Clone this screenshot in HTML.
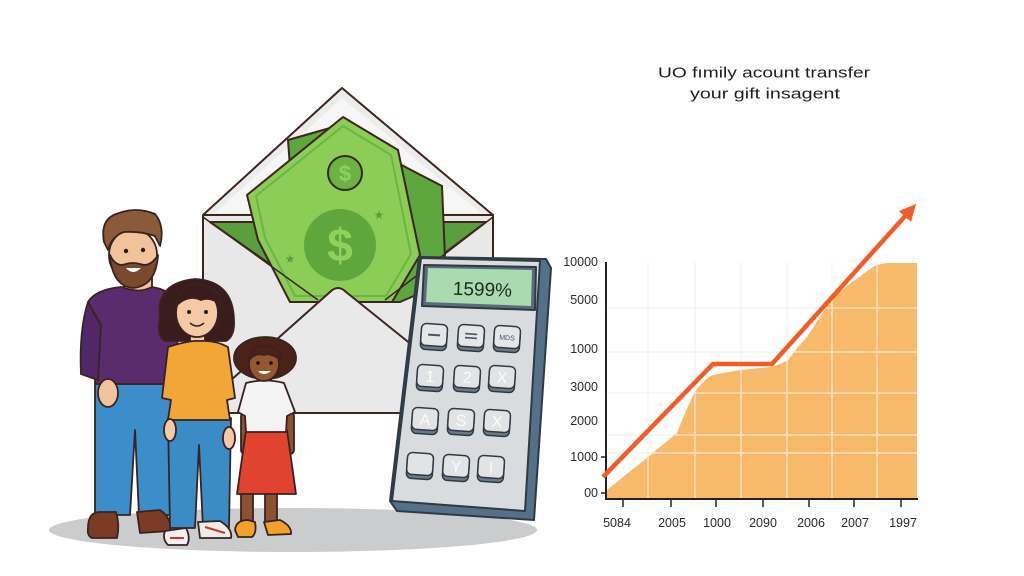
<!DOCTYPE html>
<html><head><meta charset="utf-8"><style>
html,body{margin:0;padding:0;background:#fff;}
svg{display:block;}
</style></head><body>
<svg width="1024" height="576" viewBox="0 0 1024 576" xmlns="http://www.w3.org/2000/svg">
<rect width="1024" height="576" fill="#ffffff"/>

<!-- Title -->
<text x="658" y="77.5" font-family="Liberation Sans, sans-serif" font-size="15" fill="#1e1e1e" textLength="212" lengthAdjust="spacingAndGlyphs">UO fımily acount transfer</text>
<text x="690" y="98.5" font-family="Liberation Sans, sans-serif" font-size="15" fill="#1e1e1e" textLength="150" lengthAdjust="spacingAndGlyphs">your gift insagent</text>

<!-- Chart -->
<defs>
<clipPath id="areaClip"><path d="M607,498 L607,490 L648,457 L677,433 Q688,405 695,392 Q703,380 713,375 L740,370 L770,367 Q780,365 788,360 Q797,348 807,337 L833,297 Q850,283 873,267 Q880,263 890,263 L917,263 L917,498 Z"/></clipPath>
</defs>
<g stroke="#efefef" stroke-width="1">
<line x1="648" y1="262" x2="648" y2="498"/><line x1="695" y1="262" x2="695" y2="498"/><line x1="741" y1="262" x2="741" y2="498"/><line x1="787" y1="262" x2="787" y2="498"/><line x1="832" y1="262" x2="832" y2="498"/><line x1="877" y1="262" x2="877" y2="498"/>
<line x1="607" y1="308" x2="917" y2="308"/><line x1="607" y1="352" x2="917" y2="352"/><line x1="607" y1="393" x2="917" y2="393"/><line x1="607" y1="435" x2="917" y2="435"/><line x1="607" y1="453" x2="917" y2="453"/>
</g>
<path d="M607,498 L607,490 L648,457 L677,433 Q688,405 695,392 Q703,380 713,375 L740,370 L770,367 Q780,365 788,360 Q797,348 807,337 L833,297 Q850,283 873,267 Q880,263 890,263 L917,263 L917,498 Z" fill="#f9b96b"/>
<g clip-path="url(#areaClip)" stroke="#fde2bf" stroke-width="1.5">
<line x1="648" y1="262" x2="648" y2="498"/><line x1="695" y1="262" x2="695" y2="498"/><line x1="741" y1="262" x2="741" y2="498"/><line x1="787" y1="262" x2="787" y2="498"/><line x1="832" y1="262" x2="832" y2="498"/><line x1="877" y1="262" x2="877" y2="498"/>
<line x1="607" y1="308" x2="917" y2="308"/><line x1="607" y1="352" x2="917" y2="352"/><line x1="607" y1="393" x2="917" y2="393"/><line x1="607" y1="435" x2="917" y2="435"/><line x1="607" y1="453" x2="917" y2="453"/>
</g>
<line x1="606" y1="262" x2="606" y2="500" stroke="#222" stroke-width="2"/>
<line x1="605" y1="499" x2="918" y2="499" stroke="#222" stroke-width="2"/>
<g stroke="#222" stroke-width="1.5">
<line x1="601" y1="457" x2="606" y2="457"/><line x1="601" y1="493" x2="606" y2="493"/>
<line x1="623" y1="499" x2="623" y2="507"/><line x1="671" y1="499" x2="671" y2="507"/><line x1="716" y1="499" x2="716" y2="507"/><line x1="763" y1="499" x2="763" y2="507"/><line x1="809" y1="499" x2="809" y2="507"/><line x1="854" y1="499" x2="854" y2="507"/><line x1="901" y1="499" x2="901" y2="507"/>
</g>
<g font-family="Liberation Sans, sans-serif" font-size="12.5" fill="#2a2a2a" text-anchor="end">
<text x="598" y="266">10000</text><text x="598" y="304">5000</text><text x="598" y="353">1000</text><text x="598" y="391">3000</text><text x="598" y="425">2000</text><text x="598" y="461">1000</text><text x="598" y="497">00</text>
</g>
<g font-family="Liberation Sans, sans-serif" font-size="12.5" fill="#2a2a2a" text-anchor="middle">
<text x="617" y="527">5084</text><text x="672" y="527">2005</text><text x="717" y="527">1000</text><text x="763" y="527">2090</text><text x="811" y="527">2006</text><text x="855" y="527">2007</text><text x="903" y="527">1997</text>
</g>
<polyline points="603,477 713,364 772,364 907,214" fill="none" stroke="#f05c2a" stroke-width="4.5" stroke-linejoin="miter"/>
<polygon points="916,204 911,222 899,211" fill="#f05c2a"/>

<!-- Ground shadow -->
<ellipse cx="293" cy="530" rx="244" ry="22" fill="#cbcccd"/>

<!-- Envelope -->
<g stroke="#3e2520" stroke-width="2" stroke-linejoin="round">
<polygon points="203,215 342,88 493,215" fill="#ececec"/>
<polygon points="215,213 342,98 481,213" fill="#f6f6f6" stroke="none"/>
<rect x="203" y="215" width="290" height="198" fill="#e8e8e8"/>
<polygon points="210,222 486,222 385,298 318,298" fill="#5c9e3d"/>
<!-- back bill -->
<polygon points="288,140 330,128 442,186 446,282 400,302 300,302" fill="#5ea63e"/>
<!-- front bill -->
<polygon points="247,195 343,117 398,150 420,255 392,302 290,302 258,240" fill="#8ccd58"/>
<polygon points="256,196 343,126 391,155 411,254 386,296 295,296 265,238" fill="none" stroke="#6cb444" stroke-width="2"/>
<circle cx="345" cy="173" r="17" fill="#6bb344"/>
<circle cx="340" cy="245" r="36" fill="#5fa63c" stroke="none"/>
<!-- front pocket -->
<path d="M203,413 L203,405 L330,292 Q338,284 346,292 L493,410 L493,413 Z" fill="#e9e9e9"/>
<line x1="203" y1="217" x2="318" y2="300" stroke-width="1.5"/>
<line x1="493" y1="217" x2="385" y2="300" stroke-width="1.5"/>
</g>
<text x="345" y="181" font-family="Liberation Sans, sans-serif" font-size="22" font-weight="bold" fill="#8fd15c" text-anchor="middle">$</text>
<text x="340" y="261" font-family="Liberation Sans, sans-serif" font-size="46" font-weight="bold" fill="#8fd15c" text-anchor="middle">$</text>
<text x="379" y="219" font-family="DejaVu Sans, sans-serif" font-size="12" fill="#5a9e3c" text-anchor="middle">★</text>
<text x="290" y="263" font-family="DejaVu Sans, sans-serif" font-size="12" fill="#5a9e3c" text-anchor="middle">★</text>

<!-- Dad -->
<g stroke="#3a2220" stroke-width="1.8" stroke-linejoin="round">
<path d="M95,384 L176,384 L172,515 L139,515 L135,430 L130,515 L95,515 Z" fill="#3b8ec9"/>
<path d="M88,528 Q88,512 100,512 L116,512 Q120,525 117,538 L92,538 Q87,536 88,528 Z" fill="#7c3b24"/>
<path d="M137,512 L160,510 Q172,518 170,531 L140,533 Z" fill="#7c3b24"/>
<rect x="124" y="276" width="28" height="16" fill="#f2c39b"/>
<path d="M88,302 Q96,289 122,287 Q138,294 152,287 Q172,290 177,305 L178,384 L95,384 L95,330 Z" fill="#5a2c6e"/>
<path d="M88,302 Q79,330 81,374 L98,380 L101,325 Z" fill="#51276a"/>
<ellipse cx="108" cy="393" rx="10" ry="14" fill="#f2c39b"/>
<ellipse cx="133" cy="255" rx="24" ry="26" fill="#f2c39b"/>
<path d="M110,255 Q112,286 133,288 Q156,286 158,255 Q150,268 140,264 Q133,262 126,264 Q116,268 110,255 Z" fill="#7a4a2e"/>
<path d="M104,242 Q100,220 116,214 Q136,206 155,214 Q165,226 160,246 L155,236 Q140,231 124,232 Q112,236 108,250 Z" fill="#8b5a3a"/>
</g>
<path d="M126,268 Q133,276 141,268 Z" fill="#fff"/>
<circle cx="126" cy="251" r="2.2" fill="#2a1a18"/><circle cx="143" cy="250" r="2.2" fill="#2a1a18"/>

<!-- Mom -->
<g stroke="#3a2220" stroke-width="1.8" stroke-linejoin="round">
<path d="M160,318 Q155,283 195,279 Q233,281 234,320 Q235,336 226,341 L165,341 Q156,336 160,318 Z" fill="#3b1c1d"/>
<rect x="190" y="330" width="15" height="14" fill="#f5c9a4"/>
<path d="M168,418 L231,418 L229,528 L203,528 L199,445 L195,528 L170,528 Z" fill="#3a8cc7"/>
<path d="M165,531 L186,528 Q191,538 187,545 L168,545 Q162,539 165,531 Z" fill="#f4efec"/>
<path d="M198,522 L220,521 Q233,529 231,538 L200,538 Z" fill="#f0ebe8"/>
<path d="M168,347 Q190,340 200,341 Q215,340 228,347 L235,398 L227,400 L230,420 L168,420 L171,400 L162,398 Z" fill="#f2a638"/>
<ellipse cx="170" cy="430" rx="6" ry="11" fill="#f5c9a4"/>
<ellipse cx="229" cy="438" rx="6" ry="11" fill="#f5c9a4"/>
<ellipse cx="197" cy="313" rx="21" ry="24" fill="#f5c9a4"/>
<path d="M176,306 Q179,285 197,284 Q219,285 222,306 Q211,296 201,300 Q188,294 176,306 Z" fill="#3b1c1d"/>
</g>
<path d="M205,527 L225,533" stroke="#c23a30" stroke-width="2"/>
<path d="M170,538 L184,538" stroke="#c23a30" stroke-width="2"/>
<circle cx="189" cy="312" r="2" fill="#2a1a18"/><circle cx="206" cy="312" r="2" fill="#2a1a18"/>
<path d="M190,323 Q197,329 204,323" fill="none" stroke="#3a2220" stroke-width="1.5"/>

<!-- Girl -->
<g stroke="#3a2220" stroke-width="1.8" stroke-linejoin="round">
<ellipse cx="265" cy="358" rx="31" ry="21" fill="#4b2219"/>
<rect x="241" y="490" width="12" height="34" fill="#8c5230"/>
<rect x="265" y="490" width="12" height="33" fill="#8c5230"/>
<path d="M235,530 Q236,520 248,520 L255,522 Q257,533 252,537 L238,537 Z" fill="#f2a12a"/>
<path d="M264,522 L280,520 Q292,526 291,534 L268,535 Z" fill="#f2a12a"/>
<rect x="241" y="412" width="10" height="42" rx="4" fill="#8c5230"/>
<rect x="284" y="412" width="10" height="42" rx="4" fill="#8c5230"/>
<path d="M246,430 L287,430 L296,494 L237,494 Z" fill="#e0432f"/>
<rect x="259" y="374" width="12" height="10" fill="#8c5230"/>
<path d="M246,383 Q265,378 284,383 L295,412 L287,416 L286,432 L246,432 L245,416 L238,412 Z" fill="#f4f4f4"/>
<ellipse cx="264" cy="364" rx="15" ry="17" fill="#955632"/>
<path d="M249,360 Q252,346 265,346 Q279,346 281,360 Q270,352 264,355 Q256,352 249,360 Z" fill="#4b2219"/>
</g>
<circle cx="258" cy="363" r="1.8" fill="#1e1210"/><circle cx="271" cy="363" r="1.8" fill="#1e1210"/>
<path d="M258,371 Q264,377 271,371 Z" fill="#fff"/>

<!-- Calculator -->
<g stroke="#2f3a44" stroke-width="2" stroke-linejoin="round">
<polygon points="419,257 546,259 551,268 534,520 397,511 390,501" fill="#55718a"/>
<polygon points="421,258 540,261 525,511 392,501" fill="#d9dcdf"/>
<polygon points="424,265 536,267 535,310 422,306" fill="#5b6b78"/>
<polygon points="428,268 532,270 531,306 426,302" fill="#a9dab0" stroke="none"/>
</g>
<text x="512" y="296" font-family="Liberation Sans, sans-serif" font-size="19" fill="#1e2a22" text-anchor="end" transform="rotate(2 490 290)">1599%</text>

<g font-family="Liberation Sans, sans-serif" font-size="16" fill="#fbfbfb" text-anchor="middle" stroke-linejoin="round">
<g transform="translate(434,336) rotate(4)"><rect x="-13" y="-10" width="26" height="24" rx="5" fill="#6b7a86" stroke="#2f3a44" stroke-width="1.5"/><rect x="-13" y="-12" width="26" height="22" rx="5" fill="#e4e6e8" stroke="#2f3a44" stroke-width="1.5"/><line x1="-6" y1="-1" x2="6" y2="-1" stroke="#4a5560" stroke-width="2"/></g>
<g transform="translate(471,337) rotate(4)"><rect x="-13" y="-10" width="26" height="24" rx="5" fill="#6b7a86" stroke="#2f3a44" stroke-width="1.5"/><rect x="-13" y="-12" width="26" height="22" rx="5" fill="#e4e6e8" stroke="#2f3a44" stroke-width="1.5"/><line x1="-6" y1="-3" x2="6" y2="-3" stroke="#4a5560" stroke-width="1.6"/><line x1="-6" y1="1" x2="6" y2="1" stroke="#4a5560" stroke-width="1.6"/></g>
<g transform="translate(507,338) rotate(4)"><rect x="-13" y="-10" width="26" height="24" rx="5" fill="#6b7a86" stroke="#2f3a44" stroke-width="1.5"/><rect x="-13" y="-12" width="26" height="22" rx="5" fill="#e4e6e8" stroke="#2f3a44" stroke-width="1.5"/><text x="0" y="2" font-size="7" fill="#4a5560">MDS</text></g>
<g transform="translate(430,377) rotate(4)"><rect x="-13" y="-10" width="26" height="24" rx="5" fill="#6b7a86" stroke="#2f3a44" stroke-width="1.5"/><rect x="-13" y="-12" width="26" height="22" rx="5" fill="#e1e3e5" stroke="#2f3a44" stroke-width="1.5"/><text x="0" y="5">1</text></g>
<g transform="translate(467,378) rotate(4)"><rect x="-13" y="-10" width="26" height="24" rx="5" fill="#6b7a86" stroke="#2f3a44" stroke-width="1.5"/><rect x="-13" y="-12" width="26" height="22" rx="5" fill="#e1e3e5" stroke="#2f3a44" stroke-width="1.5"/><text x="0" y="5">2</text></g>
<g transform="translate(502,378) rotate(4)"><rect x="-13" y="-10" width="26" height="24" rx="5" fill="#6b7a86" stroke="#2f3a44" stroke-width="1.5"/><rect x="-13" y="-12" width="26" height="22" rx="5" fill="#e1e3e5" stroke="#2f3a44" stroke-width="1.5"/><text x="0" y="5">X</text></g>
<g transform="translate(425,420) rotate(4)"><rect x="-13" y="-10" width="26" height="24" rx="5" fill="#6b7a86" stroke="#2f3a44" stroke-width="1.5"/><rect x="-13" y="-12" width="26" height="22" rx="5" fill="#e1e3e5" stroke="#2f3a44" stroke-width="1.5"/><text x="0" y="5">A</text></g>
<g transform="translate(461,421) rotate(4)"><rect x="-13" y="-10" width="26" height="24" rx="5" fill="#6b7a86" stroke="#2f3a44" stroke-width="1.5"/><rect x="-13" y="-12" width="26" height="22" rx="5" fill="#e1e3e5" stroke="#2f3a44" stroke-width="1.5"/><text x="0" y="5">S</text></g>
<g transform="translate(497,422) rotate(4)"><rect x="-13" y="-10" width="26" height="24" rx="5" fill="#6b7a86" stroke="#2f3a44" stroke-width="1.5"/><rect x="-13" y="-12" width="26" height="22" rx="5" fill="#e1e3e5" stroke="#2f3a44" stroke-width="1.5"/><text x="0" y="5">X</text></g>
<g transform="translate(420,465) rotate(4)"><rect x="-13" y="-10" width="26" height="24" rx="5" fill="#6b7a86" stroke="#2f3a44" stroke-width="1.5"/><rect x="-13" y="-12" width="26" height="22" rx="5" fill="#e1e3e5" stroke="#2f3a44" stroke-width="1.5"/></g>
<g transform="translate(456,467) rotate(4)"><rect x="-13" y="-10" width="26" height="24" rx="5" fill="#6b7a86" stroke="#2f3a44" stroke-width="1.5"/><rect x="-13" y="-12" width="26" height="22" rx="5" fill="#e1e3e5" stroke="#2f3a44" stroke-width="1.5"/><text x="0" y="5">Y</text></g>
<g transform="translate(491,468) rotate(4)"><rect x="-13" y="-10" width="26" height="24" rx="5" fill="#6b7a86" stroke="#2f3a44" stroke-width="1.5"/><rect x="-13" y="-12" width="26" height="22" rx="5" fill="#e1e3e5" stroke="#2f3a44" stroke-width="1.5"/><text x="0" y="5">I</text></g>
</g>
</svg>
</body></html>
